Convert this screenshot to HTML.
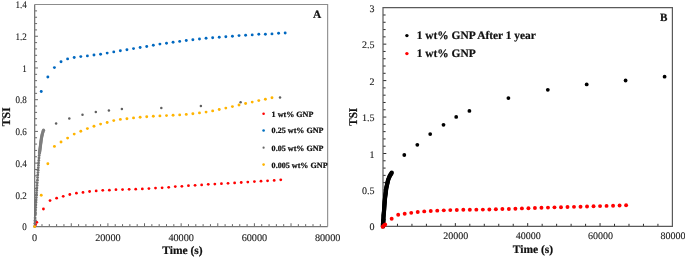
<!DOCTYPE html>
<html><head><meta charset="utf-8"><title>TSI chart</title>
<style>html,body{margin:0;padding:0;background:#fff;}body{width:685px;height:259px;overflow:hidden;}svg{display:block;filter:brightness(1);text-rendering:geometricPrecision;}</style>
</head><body>
<svg width="685" height="259" viewBox="0 0 685 259">
<rect width="685" height="259" fill="#fff"/>
<path d="M41.98 226.55v-2.4M49.3 226.55v-2.4M56.62 226.55v-2.4M63.95 226.55v-2.4M71.28 226.55v-3.3M78.6 226.55v-2.4M85.92 226.55v-2.4M93.25 226.55v-2.4M100.57 226.55v-2.4M107.9 226.55v-3.3M115.22 226.55v-2.4M122.55 226.55v-2.4M129.88 226.55v-2.4M137.2 226.55v-2.4M144.53 226.55v-3.3M151.85 226.55v-2.4M159.17 226.55v-2.4M166.5 226.55v-2.4M173.83 226.55v-2.4M181.15 226.55v-3.3M188.47 226.55v-2.4M195.8 226.55v-2.4M203.12 226.55v-2.4M210.45 226.55v-2.4M217.78 226.55v-3.3M225.1 226.55v-2.4M232.43 226.55v-2.4M239.75 226.55v-2.4M247.08 226.55v-2.4M254.4 226.55v-3.3M261.72 226.55v-2.4M269.05 226.55v-2.4M276.38 226.55v-2.4M283.7 226.55v-2.4M291.02 226.55v-3.3M298.35 226.55v-2.4M305.67 226.55v-2.4M313 226.55v-2.4M320.32 226.55v-2.4M34.65 220.21h2.4M34.65 213.86h2.4M34.65 207.52h2.4M34.65 201.18h2.4M34.65 194.84h3.3M34.65 188.49h2.4M34.65 182.15h2.4M34.65 175.81h2.4M34.65 169.46h2.4M34.65 163.12h3.3M34.65 156.78h2.4M34.65 150.44h2.4M34.65 144.09h2.4M34.65 137.75h2.4M34.65 131.41h3.3M34.65 125.06h2.4M34.65 118.72h2.4M34.65 112.38h2.4M34.65 106.04h2.4M34.65 99.69h3.3M34.65 93.35h2.4M34.65 87.01h2.4M34.65 80.66h2.4M34.65 74.32h2.4M34.65 67.98h3.3M34.65 61.64h2.4M34.65 55.29h2.4M34.65 48.95h2.4M34.65 42.61h2.4M34.65 36.26h3.3M34.65 29.92h2.4M34.65 23.58h2.4M34.65 17.24h2.4M34.65 10.89h2.4" stroke="#666" stroke-width="1" fill="none"/>
<path d="M34.65 4.55H327.65V226.55" stroke="#8c8c8c" stroke-width="1.1" fill="none"/>
<path d="M34.65 4.55V226.55H327.65" stroke="#777" stroke-width="1.3" fill="none"/>
<path d="M397.47 226.4v-2.6M411.94 226.4v-2.6M426.41 226.4v-2.6M440.88 226.4v-2.6M455.35 226.4v-3.3M469.82 226.4v-2.6M484.29 226.4v-2.6M498.76 226.4v-2.6M513.23 226.4v-2.6M527.7 226.4v-3.3M542.17 226.4v-2.6M556.64 226.4v-2.6M571.11 226.4v-2.6M585.58 226.4v-2.6M600.05 226.4v-3.3M614.52 226.4v-2.6M628.99 226.4v-2.6M643.46 226.4v-2.6M657.93 226.4v-2.6M383 219.11h2.6M383 211.82h2.6M383 204.53h2.6M383 197.24h2.6M383 189.95h3.3M383 182.66h2.6M383 175.37h2.6M383 168.08h2.6M383 160.79h2.6M383 153.5h3.3M383 146.21h2.6M383 138.92h2.6M383 131.63h2.6M383 124.34h2.6M383 117.05h3.3M383 109.76h2.6M383 102.47h2.6M383 95.18h2.6M383 87.89h2.6M383 80.6h3.3M383 73.31h2.6M383 66.02h2.6M383 58.73h2.6M383 51.44h2.6M383 44.15h3.3M383 36.86h2.6M383 29.57h2.6M383 22.28h2.6M383 14.99h2.6" stroke="#2a2a2a" stroke-width="1" fill="none"/>
<path d="M383 7.7V226.4H672.4V7.7Z" stroke="#5a5a5a" stroke-width="1.2" fill="none"/>
<g style="font-family:&quot;Liberation Serif&quot;,serif;font-size:10px" fill="#222" stroke="#222" stroke-width="0.12">
<text transform="translate(26.85 230.25) scale(0.9 1)" text-anchor="end">0</text>
<text transform="translate(26.85 198.54) scale(0.9 1)" text-anchor="end">0.2</text>
<text transform="translate(26.85 166.82) scale(0.9 1)" text-anchor="end">0.4</text>
<text transform="translate(26.85 135.11) scale(0.9 1)" text-anchor="end">0.6</text>
<text transform="translate(26.85 103.39) scale(0.9 1)" text-anchor="end">0.8</text>
<text transform="translate(26.85 71.68) scale(0.9 1)" text-anchor="end">1</text>
<text transform="translate(26.85 39.96) scale(0.9 1)" text-anchor="end">1.2</text>
<text transform="translate(26.85 8.25) scale(0.9 1)" text-anchor="end">1.4</text>
<text x="34.65" y="241.4" text-anchor="middle" font-size="10.2">0</text>
<text x="107.9" y="241.4" text-anchor="middle" font-size="10.2">20000</text>
<text x="181.15" y="241.4" text-anchor="middle" font-size="10.2">40000</text>
<text x="254.4" y="241.4" text-anchor="middle" font-size="10.2">60000</text>
<text x="327.65" y="241.4" text-anchor="middle" font-size="10.2">80000</text>
<text x="374.4" y="230.4" text-anchor="end">0</text>
<text x="374.4" y="193.95" text-anchor="end">0.5</text>
<text x="374.4" y="157.5" text-anchor="end">1</text>
<text x="374.4" y="121.05" text-anchor="end">1.5</text>
<text x="374.4" y="84.6" text-anchor="end">2</text>
<text x="374.4" y="48.15" text-anchor="end">2.5</text>
<text x="374.4" y="11.7" text-anchor="end">3</text>
<text x="455.85" y="239.3" text-anchor="middle">20000</text>
<text x="528.2" y="239.3" text-anchor="middle">40000</text>
<text x="600.55" y="239.3" text-anchor="middle">60000</text>
<text x="672.9" y="239.3" text-anchor="middle">80000</text>
</g>
<g style="font-family:&quot;Liberation Serif&quot;,serif;font-weight:bold" fill="#111" stroke="#111" stroke-width="0.22">
<text x="182.5" y="254.3" text-anchor="middle" font-size="11.5">Time (s)</text>
<text x="533" y="252.7" text-anchor="middle" font-size="11.5">Time (s)</text>
<text transform="translate(9.6 116.8) rotate(-90)" text-anchor="middle" font-size="11.8">TSI</text>
<text transform="translate(356.6 116.8) rotate(-90) scale(0.93 1)" text-anchor="middle" font-size="11.8">TSI</text>
<text x="317.1" y="18.45" text-anchor="middle" font-size="11.4">A</text>
<text x="663.7" y="21.4" text-anchor="middle" font-size="11.1">B</text>
<text x="271.6" y="116.6" font-size="8.1">1 wt% GNP</text>
<text x="271.6" y="133.4" font-size="8.1">0.25 wt% GNP</text>
<text x="271.6" y="150.6" font-size="8.1">0.05 wt% GNP</text>
<text x="271.6" y="167.5" font-size="8.1">0.005 wt% GNP</text>
<text x="416.8" y="39.3" font-size="11.4">1 wt% GNP After 1 year</text>
<text x="416.8" y="57.4" font-size="11.4">1 wt% GNP</text>
</g>
<circle cx="263.6" cy="113.7" r="1.3" fill="#ff0000"/>
<circle cx="263.6" cy="130.5" r="1.3" fill="#0070c0"/>
<circle cx="263.6" cy="147.7" r="1.1" fill="#666666"/>
<circle cx="263.6" cy="164.6" r="1.3" fill="#ffb400"/>
<circle cx="406.9" cy="35.6" r="1.7" fill="#000"/>
<circle cx="406.9" cy="53.6" r="1.7" fill="#ff0000"/>
<g fill="#ff0000"><circle cx="35.57" cy="224.65" r="1.4"/><circle cx="36.85" cy="222.3" r="1.4"/><circle cx="43.44" cy="209" r="1.4"/><circle cx="50.03" cy="200.6" r="1.4"/><circle cx="56.62" cy="198.2" r="1.4"/><circle cx="63.22" cy="196.3" r="1.4"/><circle cx="69.81" cy="194.5" r="1.4"/><circle cx="76.4" cy="193.2" r="1.4"/><circle cx="83" cy="192.4" r="1.4"/><circle cx="89.59" cy="191.5" r="1.4"/><circle cx="96.18" cy="190.9" r="1.4"/><circle cx="102.77" cy="190.3" r="1.4"/><circle cx="109.37" cy="190.2" r="1.4"/><circle cx="115.96" cy="189.7" r="1.4"/><circle cx="122.55" cy="189.6" r="1.4"/><circle cx="129.14" cy="189.3" r="1.4"/><circle cx="135.73" cy="189.2" r="1.4"/><circle cx="142.33" cy="188.9" r="1.4"/><circle cx="148.92" cy="188.6" r="1.4"/><circle cx="155.51" cy="188.1" r="1.4"/><circle cx="162.1" cy="187.8" r="1.4"/><circle cx="168.7" cy="187.3" r="1.4"/><circle cx="175.29" cy="186.6" r="1.4"/><circle cx="181.88" cy="186.3" r="1.4"/><circle cx="188.47" cy="185.7" r="1.4"/><circle cx="195.07" cy="185.3" r="1.4"/><circle cx="201.66" cy="184.9" r="1.4"/><circle cx="208.25" cy="184.3" r="1.4"/><circle cx="214.84" cy="184.1" r="1.4"/><circle cx="221.44" cy="183.7" r="1.4"/><circle cx="228.03" cy="183.3" r="1.4"/><circle cx="234.62" cy="182.9" r="1.4"/><circle cx="241.22" cy="182.5" r="1.4"/><circle cx="247.81" cy="182.1" r="1.4"/><circle cx="254.4" cy="181.6" r="1.4"/><circle cx="260.99" cy="181.2" r="1.4"/><circle cx="267.58" cy="180.8" r="1.4"/><circle cx="274.18" cy="180.4" r="1.4"/><circle cx="280.77" cy="179.8" r="1.4"/></g>
<g fill="#727272"><circle cx="34.6" cy="226.5" r="1.4"/><circle cx="34.77" cy="223.62" r="1.4"/><circle cx="34.95" cy="220.75" r="1.4"/><circle cx="35.12" cy="217.88" r="1.4"/><circle cx="35.3" cy="215" r="1.4"/><circle cx="35.43" cy="212.5" r="1.4"/><circle cx="35.57" cy="210" r="1.4"/><circle cx="35.7" cy="207.5" r="1.4"/><circle cx="35.83" cy="205" r="1.4"/><circle cx="35.97" cy="202.5" r="1.4"/><circle cx="36.1" cy="200" r="1.4"/><circle cx="36.26" cy="197.6" r="1.4"/><circle cx="36.42" cy="195.2" r="1.4"/><circle cx="36.58" cy="192.8" r="1.4"/><circle cx="36.74" cy="190.4" r="1.4"/><circle cx="36.9" cy="188" r="1.4"/><circle cx="37.08" cy="185.4" r="1.4"/><circle cx="37.26" cy="182.8" r="1.4"/><circle cx="37.44" cy="180.2" r="1.4"/><circle cx="37.62" cy="177.6" r="1.4"/><circle cx="37.8" cy="175" r="1.4"/><circle cx="37.96" cy="172.6" r="1.4"/><circle cx="38.12" cy="170.2" r="1.4"/><circle cx="38.28" cy="167.8" r="1.4"/><circle cx="38.44" cy="165.4" r="1.4"/><circle cx="38.6" cy="163" r="1.4"/><circle cx="38.8" cy="160.5" r="1.4"/><circle cx="39" cy="158" r="1.4"/><circle cx="39.2" cy="155.5" r="1.4"/><circle cx="39.4" cy="153" r="1.4"/></g>
<g fill="#7e7e7e"><circle cx="39.5" cy="153" r="1.65"/><circle cx="39.63" cy="152" r="1.65"/><circle cx="39.76" cy="151" r="1.65"/><circle cx="39.89" cy="150" r="1.65"/><circle cx="40.01" cy="149" r="1.65"/><circle cx="40.14" cy="148" r="1.65"/><circle cx="40.27" cy="147" r="1.65"/><circle cx="40.4" cy="146" r="1.65"/><circle cx="40.53" cy="145" r="1.65"/><circle cx="40.66" cy="144" r="1.65"/><circle cx="40.79" cy="143" r="1.65"/><circle cx="40.91" cy="142" r="1.65"/><circle cx="41.04" cy="141" r="1.65"/><circle cx="41.17" cy="140" r="1.65"/><circle cx="41.3" cy="139" r="1.65"/><circle cx="41.5" cy="138" r="1.65"/><circle cx="41.7" cy="137" r="1.65"/><circle cx="41.9" cy="136" r="1.65"/><circle cx="42.1" cy="135" r="1.65"/><circle cx="42.3" cy="134" r="1.65"/><circle cx="42.7" cy="132.73" r="1.65"/><circle cx="43.1" cy="131.47" r="1.65"/><circle cx="43.5" cy="130.2" r="1.65"/></g>
<g fill="#5f5f5f"><circle cx="56.1" cy="123.4" r="1.25"/><circle cx="69.3" cy="118.5" r="1.25"/><circle cx="82.5" cy="114.8" r="1.25"/><circle cx="95.8" cy="112" r="1.25"/><circle cx="108.9" cy="110.6" r="1.25"/><circle cx="121.9" cy="109.1" r="1.25"/><circle cx="161.3" cy="108" r="1.25"/><circle cx="200.9" cy="106.1" r="1.25"/><circle cx="240.6" cy="102.2" r="1.25"/><circle cx="280" cy="97.4" r="1.25"/></g>
<g fill="#ffb400"><circle cx="34.65" cy="226.6" r="1.45"/><circle cx="41.24" cy="195.2" r="1.45"/><circle cx="47.84" cy="163.8" r="1.45"/><circle cx="54.43" cy="146.4" r="1.45"/><circle cx="61.02" cy="142" r="1.45"/><circle cx="67.61" cy="138.1" r="1.45"/><circle cx="74.2" cy="134.1" r="1.45"/><circle cx="80.8" cy="131.3" r="1.45"/><circle cx="87.39" cy="128.6" r="1.45"/><circle cx="93.98" cy="126.2" r="1.45"/><circle cx="100.57" cy="124.1" r="1.45"/><circle cx="107.17" cy="122.5" r="1.45"/><circle cx="113.76" cy="120.6" r="1.45"/><circle cx="120.35" cy="119.4" r="1.45"/><circle cx="126.94" cy="118.7" r="1.45"/><circle cx="133.54" cy="117.9" r="1.45"/><circle cx="140.13" cy="117.3" r="1.45"/><circle cx="146.72" cy="116.8" r="1.45"/><circle cx="153.31" cy="116.3" r="1.45"/><circle cx="159.91" cy="115.9" r="1.45"/><circle cx="166.5" cy="115.6" r="1.45"/><circle cx="173.09" cy="115.2" r="1.45"/><circle cx="179.69" cy="114.9" r="1.45"/><circle cx="186.28" cy="114.4" r="1.45"/><circle cx="192.87" cy="113.7" r="1.45"/><circle cx="199.46" cy="112.9" r="1.45"/><circle cx="206.06" cy="112.1" r="1.45"/><circle cx="212.65" cy="110.9" r="1.45"/><circle cx="219.24" cy="109.5" r="1.45"/><circle cx="225.83" cy="108.1" r="1.45"/><circle cx="232.43" cy="106.6" r="1.45"/><circle cx="239.02" cy="105" r="1.45"/><circle cx="245.61" cy="103.5" r="1.45"/><circle cx="252.2" cy="102.1" r="1.45"/><circle cx="258.8" cy="100.6" r="1.45"/><circle cx="265.39" cy="99.2" r="1.45"/><circle cx="271.98" cy="97.7" r="1.45"/></g>
<g fill="#0068c0"><circle cx="41.24" cy="91.5" r="1.45"/><circle cx="47.84" cy="77" r="1.45"/><circle cx="54.43" cy="67.6" r="1.45"/><circle cx="61.02" cy="61.8" r="1.45"/><circle cx="67.61" cy="58.9" r="1.45"/><circle cx="74.2" cy="57.5" r="1.45"/><circle cx="80.8" cy="56.6" r="1.45"/><circle cx="87.39" cy="55.9" r="1.45"/><circle cx="93.98" cy="55" r="1.45"/><circle cx="100.57" cy="54.3" r="1.45"/><circle cx="107.17" cy="53.1" r="1.45"/><circle cx="113.76" cy="51.9" r="1.45"/><circle cx="120.35" cy="50.8" r="1.45"/><circle cx="126.94" cy="49.7" r="1.45"/><circle cx="133.54" cy="48.6" r="1.45"/><circle cx="140.13" cy="47.5" r="1.45"/><circle cx="146.72" cy="46.5" r="1.45"/><circle cx="153.31" cy="45.3" r="1.45"/><circle cx="159.91" cy="44.1" r="1.45"/><circle cx="166.5" cy="43.2" r="1.45"/><circle cx="173.09" cy="42.2" r="1.45"/><circle cx="179.69" cy="41.4" r="1.45"/><circle cx="186.28" cy="40.5" r="1.45"/><circle cx="192.87" cy="39.7" r="1.45"/><circle cx="199.46" cy="39" r="1.45"/><circle cx="206.06" cy="38.3" r="1.45"/><circle cx="212.65" cy="37.8" r="1.45"/><circle cx="219.24" cy="37.2" r="1.45"/><circle cx="225.83" cy="36.8" r="1.45"/><circle cx="232.43" cy="36.2" r="1.45"/><circle cx="239.02" cy="35.6" r="1.45"/><circle cx="245.61" cy="35.3" r="1.45"/><circle cx="252.2" cy="34.9" r="1.45"/><circle cx="258.8" cy="34.3" r="1.45"/><circle cx="265.39" cy="34.2" r="1.45"/><circle cx="271.98" cy="33.9" r="1.45"/><circle cx="278.57" cy="33.3" r="1.45"/><circle cx="285.17" cy="33" r="1.45"/></g>
<g fill="#000"><circle cx="383" cy="226.4" r="2.2"/><circle cx="383.05" cy="225.36" r="2.2"/><circle cx="383.11" cy="224.33" r="2.2"/><circle cx="383.16" cy="223.29" r="2.2"/><circle cx="383.22" cy="222.25" r="2.2"/><circle cx="383.27" cy="221.22" r="2.2"/><circle cx="383.33" cy="220.18" r="2.2"/><circle cx="383.38" cy="219.15" r="2.2"/><circle cx="383.44" cy="218.11" r="2.2"/><circle cx="383.49" cy="217.07" r="2.2"/><circle cx="383.55" cy="216.04" r="2.2"/><circle cx="383.6" cy="215" r="2.2"/><circle cx="383.7" cy="214" r="2.2"/><circle cx="383.8" cy="213" r="2.2"/><circle cx="383.9" cy="212" r="2.2"/><circle cx="384" cy="211" r="2.2"/><circle cx="384.1" cy="210" r="2.2"/><circle cx="384.17" cy="209" r="2.2"/><circle cx="384.24" cy="208" r="2.2"/><circle cx="384.31" cy="207" r="2.2"/><circle cx="384.38" cy="206" r="2.2"/><circle cx="384.45" cy="205" r="2.2"/><circle cx="384.52" cy="204" r="2.2"/><circle cx="384.59" cy="203" r="2.2"/><circle cx="384.66" cy="202" r="2.2"/><circle cx="384.73" cy="201" r="2.2"/><circle cx="384.8" cy="200" r="2.2"/><circle cx="384.92" cy="199" r="2.2"/><circle cx="385.04" cy="198" r="2.2"/><circle cx="385.16" cy="197" r="2.2"/><circle cx="385.28" cy="196" r="2.2"/><circle cx="385.4" cy="195" r="2.2"/><circle cx="385.53" cy="194" r="2.2"/><circle cx="385.66" cy="193" r="2.2"/><circle cx="385.79" cy="192" r="2.2"/><circle cx="385.91" cy="191" r="2.2"/><circle cx="386.04" cy="190" r="2.2"/><circle cx="386.17" cy="189" r="2.2"/><circle cx="386.3" cy="188" r="2.2"/><circle cx="386.52" cy="187" r="2.2"/><circle cx="386.75" cy="186" r="2.2"/><circle cx="386.98" cy="185" r="2.2"/><circle cx="387.2" cy="184" r="2.2"/><circle cx="387.43" cy="183" r="2.2"/><circle cx="387.65" cy="182" r="2.2"/><circle cx="387.88" cy="181" r="2.2"/><circle cx="388.1" cy="180" r="2.2"/><circle cx="388.57" cy="178.83" r="2.2"/><circle cx="389.03" cy="177.67" r="2.2"/><circle cx="389.5" cy="176.5" r="2.2"/><circle cx="390.05" cy="175.55" r="2.2"/><circle cx="390.6" cy="174.6" r="2.2"/><circle cx="391.15" cy="173.65" r="2.2"/><circle cx="391.7" cy="172.7" r="2.2"/></g>
<g fill="#000"><circle cx="404.3" cy="155" r="1.9"/><circle cx="417.3" cy="144.8" r="1.9"/><circle cx="430.2" cy="134.1" r="1.9"/><circle cx="443.5" cy="124.8" r="1.9"/><circle cx="456.2" cy="116.9" r="1.9"/><circle cx="469.4" cy="110.9" r="1.9"/><circle cx="508.4" cy="98.1" r="1.9"/><circle cx="547.8" cy="89.8" r="1.9"/><circle cx="586.7" cy="84.4" r="1.9"/><circle cx="625.6" cy="80.5" r="1.9"/><circle cx="664.6" cy="76.7" r="1.9"/></g>
<g fill="#ff0000"><circle cx="382.7" cy="226.8" r="1.95"/><circle cx="383.9" cy="225.53" r="1.95"/><circle cx="385.17" cy="224.45" r="1.95"/><circle cx="391.68" cy="218.68" r="1.95"/><circle cx="398.19" cy="214.82" r="1.95"/><circle cx="404.7" cy="213.72" r="1.95"/><circle cx="411.22" cy="212.84" r="1.95"/><circle cx="417.73" cy="212.02" r="1.95"/><circle cx="424.24" cy="211.42" r="1.95"/><circle cx="430.75" cy="211.05" r="1.95"/><circle cx="437.26" cy="210.64" r="1.95"/><circle cx="443.77" cy="210.36" r="1.95"/><circle cx="450.29" cy="210.08" r="1.95"/><circle cx="456.8" cy="210.04" r="1.95"/><circle cx="463.31" cy="209.81" r="1.95"/><circle cx="469.82" cy="209.76" r="1.95"/><circle cx="476.33" cy="209.63" r="1.95"/><circle cx="482.84" cy="209.58" r="1.95"/><circle cx="489.35" cy="209.44" r="1.95"/><circle cx="495.87" cy="209.3" r="1.95"/><circle cx="502.38" cy="209.07" r="1.95"/><circle cx="508.89" cy="208.94" r="1.95"/><circle cx="515.4" cy="208.71" r="1.95"/><circle cx="521.91" cy="208.38" r="1.95"/><circle cx="528.42" cy="208.25" r="1.95"/><circle cx="534.93" cy="207.97" r="1.95"/><circle cx="541.45" cy="207.79" r="1.95"/><circle cx="547.96" cy="207.6" r="1.95"/><circle cx="554.47" cy="207.33" r="1.95"/><circle cx="560.98" cy="207.23" r="1.95"/><circle cx="567.49" cy="207.05" r="1.95"/><circle cx="574" cy="206.87" r="1.95"/><circle cx="580.52" cy="206.68" r="1.95"/><circle cx="587.03" cy="206.5" r="1.95"/><circle cx="593.54" cy="206.32" r="1.95"/><circle cx="600.05" cy="206.09" r="1.95"/><circle cx="606.56" cy="205.9" r="1.95"/><circle cx="613.07" cy="205.72" r="1.95"/><circle cx="619.58" cy="205.53" r="1.95"/><circle cx="626.1" cy="205.26" r="1.95"/></g>
</svg>
</body></html>
